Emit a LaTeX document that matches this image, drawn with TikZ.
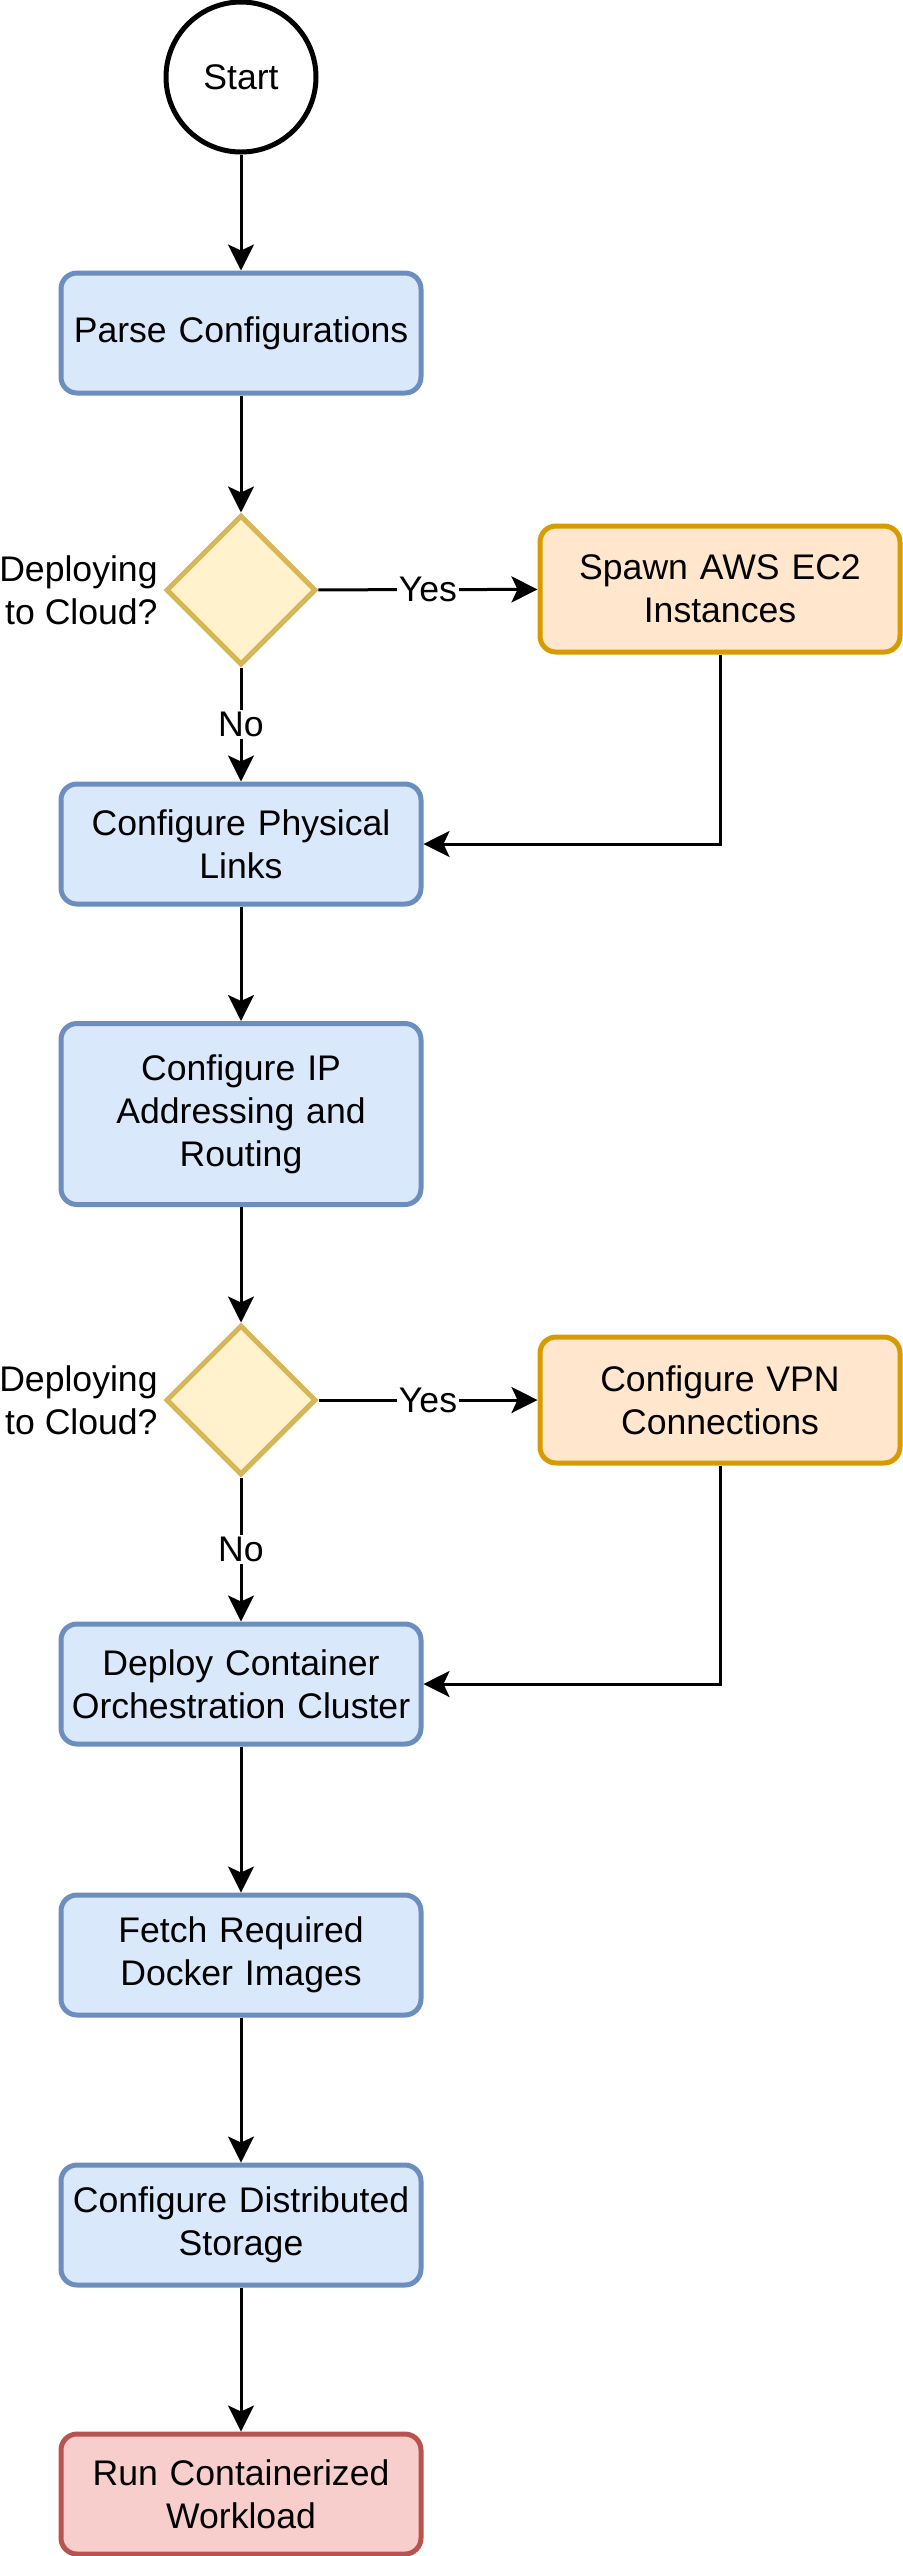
\documentclass[tikz,border=0pt]{standalone}
\usepackage{fontspec}
\setmainfont{Liberation Sans}
\usetikzlibrary{shapes.geometric,arrows.meta,positioning}
\definecolor{bluefill}{HTML}{DAE8FC}
\definecolor{bluedraw}{HTML}{6C8EBF}
\definecolor{yelfill}{HTML}{FFF2CC}
\definecolor{yeldraw}{HTML}{D6B656}
\definecolor{orafill}{HTML}{FFE6CC}
\definecolor{oradraw}{HTML}{D79B00}
\definecolor{redfill}{HTML}{F8CECC}
\definecolor{reddraw}{HTML}{B85450}
\tikzset{
  base/.style={font=\fontsize{17.8}{21.5}\selectfont, align=center, line width=2.5pt},
  stepbox/.style={base, rectangle, rounded corners=8pt, minimum width=180pt, minimum height=60pt, text width=172pt, inner sep=0pt},
  bluebox/.style={stepbox, fill=bluefill, draw=bluedraw},
  orabox/.style={stepbox, fill=orafill, draw=oradraw, minimum height=63pt},
  redbox/.style={stepbox, fill=redfill, draw=reddraw},
  decision/.style={base, diamond, shape aspect=1, fill=yelfill, draw=yeldraw, minimum width=75pt, minimum height=75pt, inner sep=0pt},
  startnode/.style={base, circle, draw=black, fill=white, minimum size=75pt, inner sep=0pt},
  conn/.style={line width=1.5pt, -{Stealth[length=13pt, width=13pt, inset=3pt]}},
  lbl/.style={font=\fontsize{17.8}{21.5}\selectfont, fill=white, inner sep=1pt},
  side/.style={font=\fontsize{17.8}{21.5}\selectfont, align=right, inner sep=0pt}
}
\begin{document}
\begin{tikzpicture}[x=0.5pt, y=-0.5pt]
\useasboundingbox (0,0) rectangle (903,2556);
\node[startnode] (start) at (241,77) {Start};
\node[bluebox] (parse) at (241,333) {Parse Configurations};
\node[decision] (d1) at (241,590) {};
\node[side, anchor=east] (q1) at (158,590) {Deploying\\to Cloud?};
\node[orabox] (spawn) at (720,589) {Spawn AWS EC2\\Instances};
\node[bluebox] (phys) at (241,844) {Configure Physical\\Links};
\node[bluebox, minimum height=90.5pt] (ip) at (241,1114) {Configure IP\\Addressing and\\Routing};
\node[decision] (d2) at (241,1400) {};
\node[side, anchor=east] (q2) at (158,1400) {Deploying\\to Cloud?};
\node[orabox] (vpn) at (720,1400) {Configure VPN\\Connections};
\node[bluebox] (deploy) at (241,1684) {Deploy Container\\Orchestration Cluster};
\node[bluebox] (fetch) at (241,1955) {Fetch Required\\Docker Images};
\node[bluebox] (storage) at (241,2225) {Configure Distributed\\Storage};
\node[redbox] (run) at (241,2494) {Run Containerized\\Workload};

\draw[conn] (start) -- (parse);
\draw[conn] (parse) -- (d1);
\draw[conn] (d1) -- node[lbl] {Yes} (spawn);
\draw[conn] (d1) -- node[lbl] {No} (phys);
\draw[conn] (spawn.south) |- (phys.east);
\draw[conn] (phys) -- (ip);
\draw[conn] (ip) -- (d2);
\draw[conn] (d2) -- node[lbl] {Yes} (vpn);
\draw[conn] (d2) -- node[lbl] {No} (deploy);
\draw[conn] (vpn.south) |- (deploy.east);
\draw[conn] (deploy) -- (fetch);
\draw[conn] (fetch) -- (storage);
\draw[conn] (storage) -- (run);
\end{tikzpicture}
\end{document}
